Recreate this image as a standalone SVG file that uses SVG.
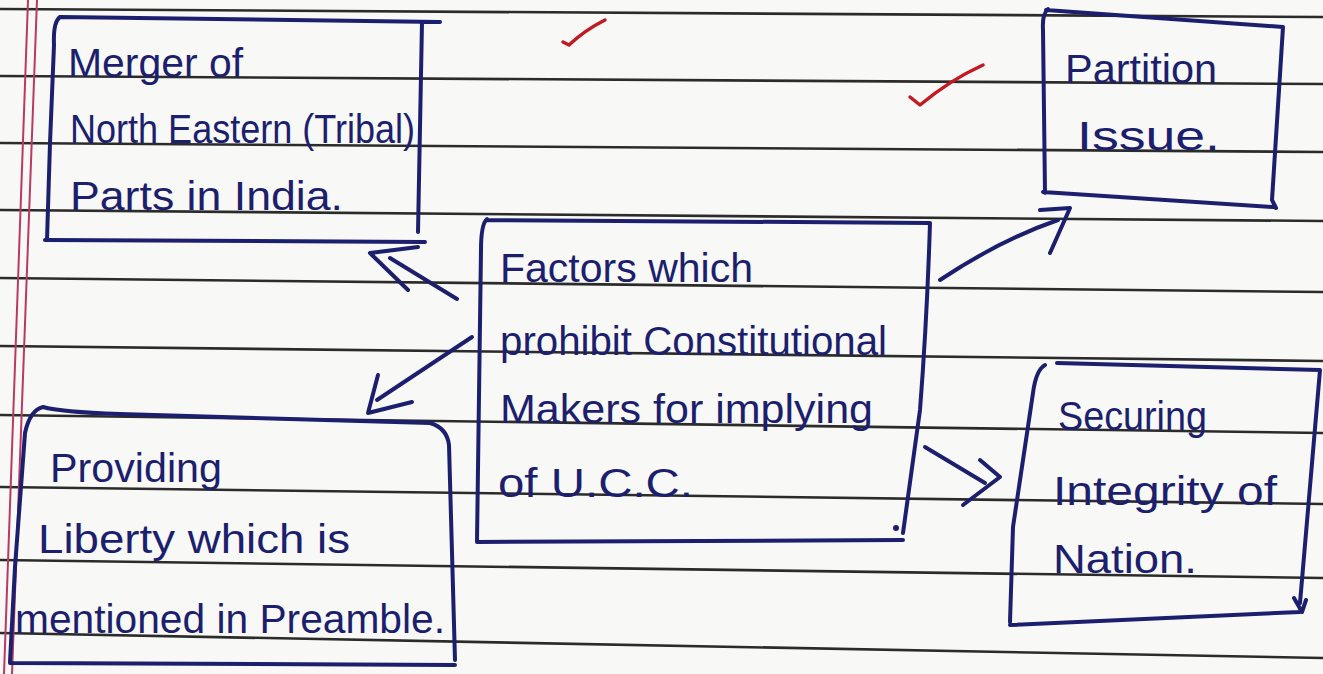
<svg xmlns="http://www.w3.org/2000/svg" width="1323" height="674" viewBox="0 0 1323 674">
<style>
.paper{stroke:#2b2b2b;stroke-width:2.6;fill:none}
.margin{stroke:#b83a64;stroke-width:2;fill:none}
.ink{stroke:#1c1f6e;stroke-width:4;fill:none;stroke-linecap:round;stroke-linejoin:round}
.tick{stroke:#c21a22;stroke-width:3.5;fill:none;stroke-linecap:round;stroke-linejoin:round}
.t{font-family:"Liberation Sans","DejaVu Sans",sans-serif;font-size:40px;fill:#1c1f6e}
</style>
<rect width="1323" height="674" fill="#f8f8f6"/>
<g id="paper">
<line class="paper" x1="0" y1="9" x2="1323" y2="17"/>
<line class="paper" x1="0" y1="76" x2="1323" y2="84"/>
<line class="paper" x1="0" y1="143" x2="1323" y2="152"/>
<line class="paper" x1="0" y1="210" x2="1323" y2="221"/>
<line class="paper" x1="0" y1="278" x2="1323" y2="292"/>
<line class="paper" x1="0" y1="346" x2="1323" y2="361"/>
<line class="paper" x1="0" y1="415" x2="1323" y2="433"/>
<line class="paper" x1="0" y1="487" x2="1323" y2="504"/>
<line class="paper" x1="0" y1="560" x2="1323" y2="578"/>
<line class="paper" x1="0" y1="633" x2="1323" y2="658"/>
<line class="margin" x1="28" y1="0" x2="4" y2="674"/>
<line class="margin" x1="37" y1="0" x2="12" y2="674"/>
<path class="tick" d="M563,42 L569,45 Q585,30 605,20"/>
<path class="tick" d="M910,97 L920,105 Q950,80 983,65"/>
</g>
<g id="merger">
<path class="ink" d="M60,17 Q53,22 54,45 L50,143 L47,240 M60,17 L440,22 M422,22 L418,232 M45,240 L425,242"/>
<text class="t" x="68" y="77" textLength="175" lengthAdjust="spacingAndGlyphs">Merger of</text>
<text class="t" x="70" y="143" textLength="345" lengthAdjust="spacingAndGlyphs">North Eastern (Tribal)</text>
<text class="t" x="70" y="210" textLength="273" lengthAdjust="spacingAndGlyphs">Parts in India.</text>
</g>
<g id="partition">
<path class="ink" d="M1048,9 Q1042,14 1043,30 L1045,193 M1046,10 L1283,27 L1272,200 L1276,208 M1043,192 L1273,207"/>
<text class="t" x="1065" y="83" textLength="152" lengthAdjust="spacingAndGlyphs">Partition</text>
<text class="t" x="1077" y="150" textLength="143" lengthAdjust="spacingAndGlyphs">Issue.</text>
</g>
<g id="factors">
<path class="ink" d="M487,219 Q481,224 481,250 L477,541 M487,220 L930,223 Q927,320 920,410 L903,533 M477,542 L903,540"/>
<circle cx="896" cy="528" r="3" fill="#1c1f6e"/>
<text class="t" x="500" y="282" textLength="253" lengthAdjust="spacingAndGlyphs">Factors which</text>
<text class="t" x="500" y="355" textLength="387" lengthAdjust="spacingAndGlyphs">prohibit Constitutional</text>
<text class="t" x="500" y="423" textLength="373" lengthAdjust="spacingAndGlyphs">Makers for implying</text>
<text class="t" x="498" y="497" textLength="195" lengthAdjust="spacingAndGlyphs">of  U.C.C.</text>
</g>
<g id="providing">
<path class="ink" d="M43,407 Q30,410 25,433 L15,567 L10,662 M43,407 Q60,412 120,414 L430,423 Q447,428 449,445 L455,660 M10,663 L455,665"/>
<text class="t" x="50" y="482" textLength="172" lengthAdjust="spacingAndGlyphs">Providing</text>
<text class="t" x="38" y="553" textLength="312" lengthAdjust="spacingAndGlyphs">Liberty which is</text>
<text class="t" x="15" y="633" textLength="430" lengthAdjust="spacingAndGlyphs">mentioned in Preamble.</text>
</g>
<g id="securing">
<path class="ink" d="M1045,365 Q1036,370 1033,393 L1013,527 L1010,622 M1057,363 L1320,370 L1300,603 M1294,598 L1302,612 L1306,600 M1010,625 L1300,612"/>
<text class="t" x="1058" y="430" textLength="149" lengthAdjust="spacingAndGlyphs">Securing</text>
<text class="t" x="1053" y="505" textLength="224" lengthAdjust="spacingAndGlyphs">Integrity of</text>
<text class="t" x="1053" y="573" textLength="144" lengthAdjust="spacingAndGlyphs">Nation.</text>
</g>
<g id="connectors">
<path class="ink" d="M457,299 L390,258 M408,290 L370,253 L418,247"/>
<path class="ink" d="M472,337 L377,400 M378,375 L368,413 L412,402"/>
<path class="ink" d="M940,280 Q1000,240 1058,220 M1040,210 L1070,208 L1050,253"/>
<path class="ink" d="M925,447 L985,483 M980,460 L1000,477 L963,505"/>
</g>
</svg>
